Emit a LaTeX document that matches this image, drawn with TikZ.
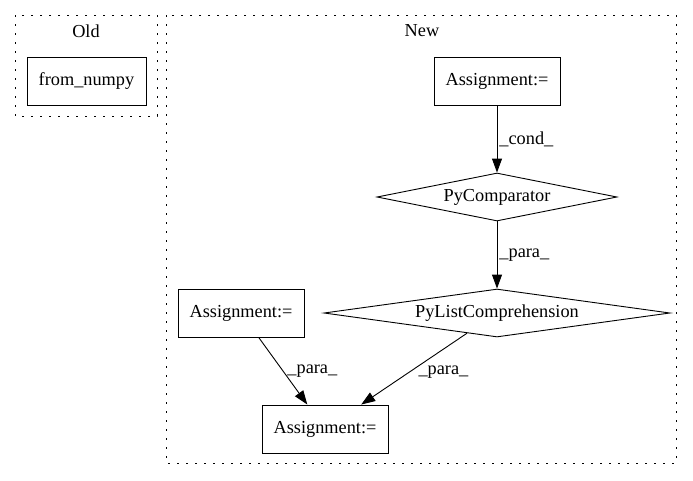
\documentclass[tikz,border=0pt]{standalone}
\usepackage{fontspec}
\setmainfont{Liberation Serif}
\usetikzlibrary{
        arrows.meta,
        positioning,
        shapes,
        shapes.geometric
    }
\tikzset{>={Triangle[length=14pt,width=10pt]},node distance=116pt}
\tikzset{
    stmt/.style={draw,rectangle,line width=0.9pt,minimum width=126pt,minimum height=48pt,inner sep=0pt},
    cmpnode/.style={draw,diamond,aspect=7,line width=0.9pt,inner sep=0pt,minimum height=48pt},
    cluster/.style={line width=1pt,dash pattern=on 1.6pt off 7.4pt},
    flow/.style={->,line width=0.9pt}
}

\begin{document}
\begin{tikzpicture}[x=1pt,y=-1pt,font=\rmfamily\fontsize{18.3}{22}\selectfont]
                \useasboundingbox (0,0) rectangle (693,480);
                % clusters
                \draw[cluster] (15,15) rectangle (157,116);
                \draw[cluster] (166,15) rectangle (676,463);
                \node (old) at (86,31) {Old};
                \node (new) at (422,31) {New};
                \node[stmt,minimum width=119pt] (fromnp) at (86.5,81) {from\_numpy};
                \node[stmt] (a0) at (497,81) {Assignment:=};
                \node[cmpnode,minimum width=240pt] (cmp) [below of=a0] {PyComparator};
                \node[cmpnode,minimum width=346pt] (lc) [below of=cmp] {PyListComprehension};
                \node[stmt] (a1) at (241,313) {Assignment:=};
                \node[stmt] (a2) at (325,429) {Assignment:=};
                \path[flow]
                    (a0)  edge  node[right,inner sep=2pt] {\_cond\_} (cmp)
                    (cmp) edge  node[right,inner sep=2pt] {\_para\_} (lc)
                    (a1)  edge  node[right,inner sep=4pt] {\_para\_} (a2)
                    (lc)  edge  node[right,inner sep=4pt,yshift=-3pt] {\_para\_} (a2)
                ;
            \end{tikzpicture}
\end{document}
